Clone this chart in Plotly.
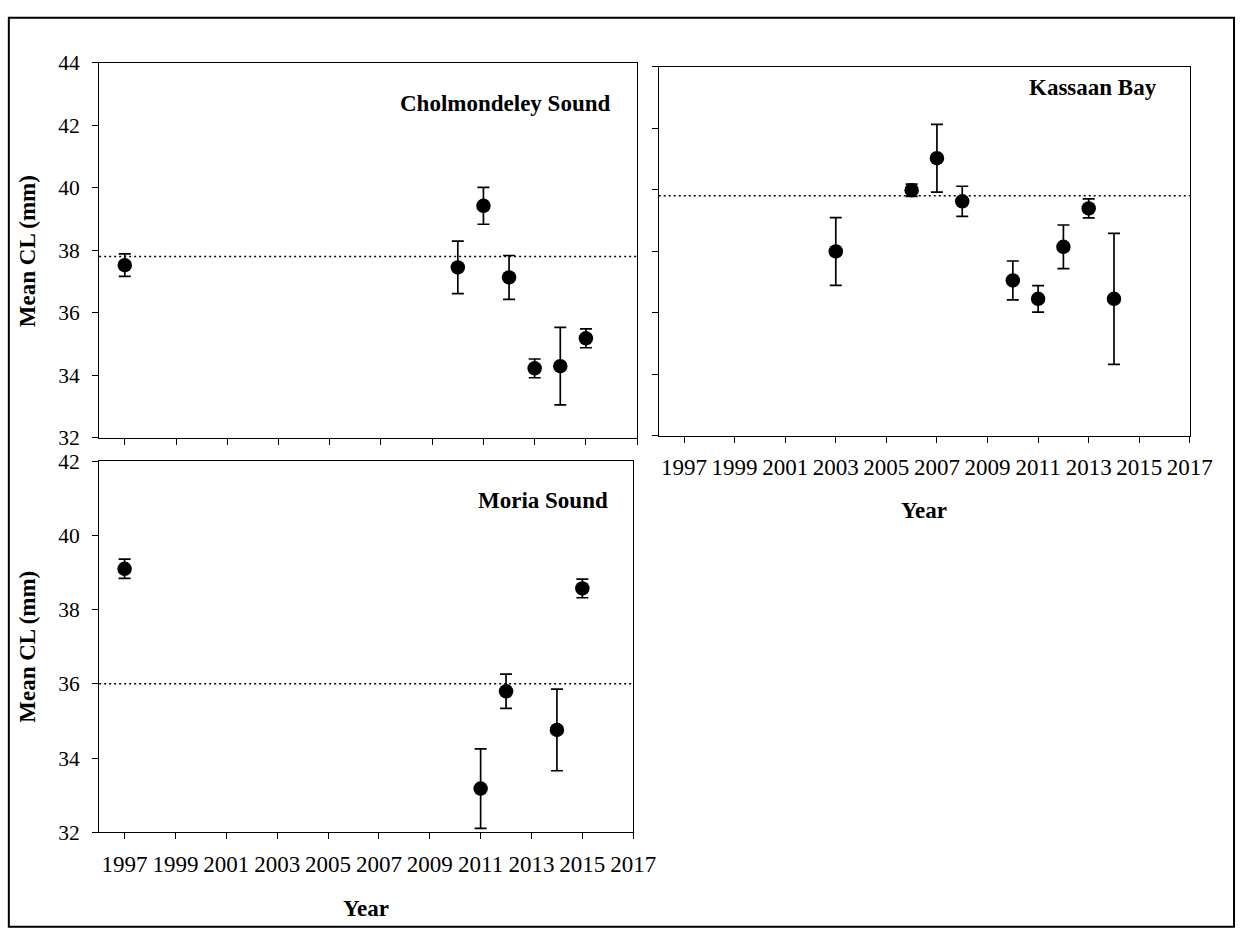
import plotly.graph_objects as go

W, H = 1259, 935

# Mean carapace length (mm) with error, by survey year
years_chol = [1997, 2010, 2011, 2012, 2013, 2014, 2015]
mean_chol = [37.52, 37.45, 39.42, 37.13, 34.22, 34.29, 35.18]
err_chol = [0.36, 0.84, 0.59, 0.70, 0.30, 1.24, 0.30]
avg_chol = 37.8

years_kass = [2003, 2006, 2007, 2008, 2010, 2011, 2012, 2013, 2014]
mean_kass = [37.99, 39.98, 41.02, 39.62, 37.05, 36.45, 38.14, 39.39, 36.45]
err_kass = [1.10, 0.20, 1.10, 0.49, 0.63, 0.43, 0.71, 0.31, 2.13]
avg_kass = 39.8

years_moria = [1997, 2011, 2012, 2014, 2015]
mean_moria = [39.10, 33.18, 35.80, 34.76, 38.57]
err_moria = [0.26, 1.07, 0.46, 1.10, 0.25]
avg_moria = 36.0

year_ticks = list(range(1997, 2018, 2))
year_labels = [str(y) for y in year_ticks]

SERIF = "Liberation Serif, Times New Roman, serif"


def px_x(v):
    return v / W


def px_y(v):
    return 1 - v / H


fig = go.Figure()

panels = [
    # (xaxis id, yaxis id, years, means, errors, average, title)
    ("x", "y", years_chol, mean_chol, err_chol, avg_chol, "Cholmondeley Sound"),
    ("x2", "y2", years_kass, mean_kass, err_kass, avg_kass, "Kassaan Bay"),
    ("x3", "y3", years_moria, mean_moria, err_moria, avg_moria, "Moria Sound"),
]

for xa, ya, yrs, means, errs, avg, name in panels:
    fig.add_trace(go.Scatter(
        x=yrs, y=means, mode="markers", xaxis=xa, yaxis=ya,
        marker=dict(size=14.5, color="black", line=dict(width=0)),
        error_y=dict(type="data", array=errs, visible=True,
                     color="black", thickness=1.7, width=6),
        showlegend=False, name=name,
    ))
    fig.add_shape(type="line", xref=f"{xa} domain", yref=ya,
                  x0=0, x1=1, y0=avg, y1=avg,
                  line=dict(color="black", width=1.5, dash="2px,3px"))

axis_common = dict(
    showline=True, mirror=True, linecolor="black", linewidth=1,
    ticks="outside", ticklen=6, tickwidth=1, tickcolor="black",
    showgrid=False, zeroline=False,
)

x_common = dict(axis_common, range=[1996, 2017], tickvals=year_ticks,
                ticktext=year_labels,
                tickfont=dict(family=SERIF, size=23, color="black"))

y_font = dict(family=SERIF, size=21.5, color="black")

fig.update_layout(
    width=W, height=H,
    margin=dict(l=0, r=0, t=0, b=0),
    paper_bgcolor="white", plot_bgcolor="white",
    xaxis=dict(x_common, domain=[px_x(101), px_x(649)], anchor="y",
               showticklabels=False),
    yaxis=dict(axis_common, domain=[px_y(438), px_y(53)], anchor="x",
               range=[32, 44], tickvals=[32, 34, 36, 38, 40, 42, 44],
               tickfont=y_font, ticklabelstandoff=8),
    xaxis2=dict(x_common, domain=[px_x(671), px_x(1212)], anchor="y2",
                ticklabelstandoff=5),
    yaxis2=dict(axis_common, domain=[px_y(436), px_y(57)], anchor="x2",
                range=[32, 44], tickvals=[32, 34, 36, 38, 40, 42, 44],
                showticklabels=False),
    xaxis3=dict(x_common, domain=[px_x(101), px_x(645)], anchor="y3",
                ticklabelstandoff=5),
    yaxis3=dict(axis_common, domain=[px_y(843), px_y(462)], anchor="x3",
                range=[32, 42], tickvals=[32, 34, 36, 38, 40, 42],
                tickfont=y_font, ticklabelstandoff=8),
)

title_font = dict(family=SERIF, size=23, color="black")

annotations = [
    dict(text="<b>Cholmondeley Sound</b>", x=px_x(623), y=px_y(95),
         xanchor="right", yanchor="middle"),
    dict(text="<b>Kassaan Bay</b>", x=px_x(1181), y=px_y(79),
         xanchor="right", yanchor="middle"),
    dict(text="<b>Moria Sound</b>", x=px_x(621), y=px_y(502),
         xanchor="right", yanchor="middle"),
    dict(text="<b>Mean CL (mm)</b>", x=px_x(28), y=px_y(246),
         xanchor="center", yanchor="middle", textangle=-90),
    dict(text="<b>Mean CL (mm)</b>", x=px_x(28), y=px_y(652),
         xanchor="center", yanchor="middle", textangle=-90),
    dict(text="<b>Year</b>", x=px_x(941), y=px_y(513),
         xanchor="center", yanchor="middle"),
    dict(text="<b>Year</b>", x=px_x(373), y=px_y(921),
         xanchor="center", yanchor="middle"),
]
for a in annotations:
    fig.add_annotation(xref="paper", yref="paper", showarrow=False,
                       font=title_font, **a)

# Frame around the whole figure
fig.add_shape(type="rect", xref="paper", yref="paper",
              x0=px_x(9), x1=px_x(1257), y0=px_y(7), y1=px_y(940),
              line=dict(color="black", width=2), fillcolor="rgba(0,0,0,0)")

fig.write_html("out.html")
